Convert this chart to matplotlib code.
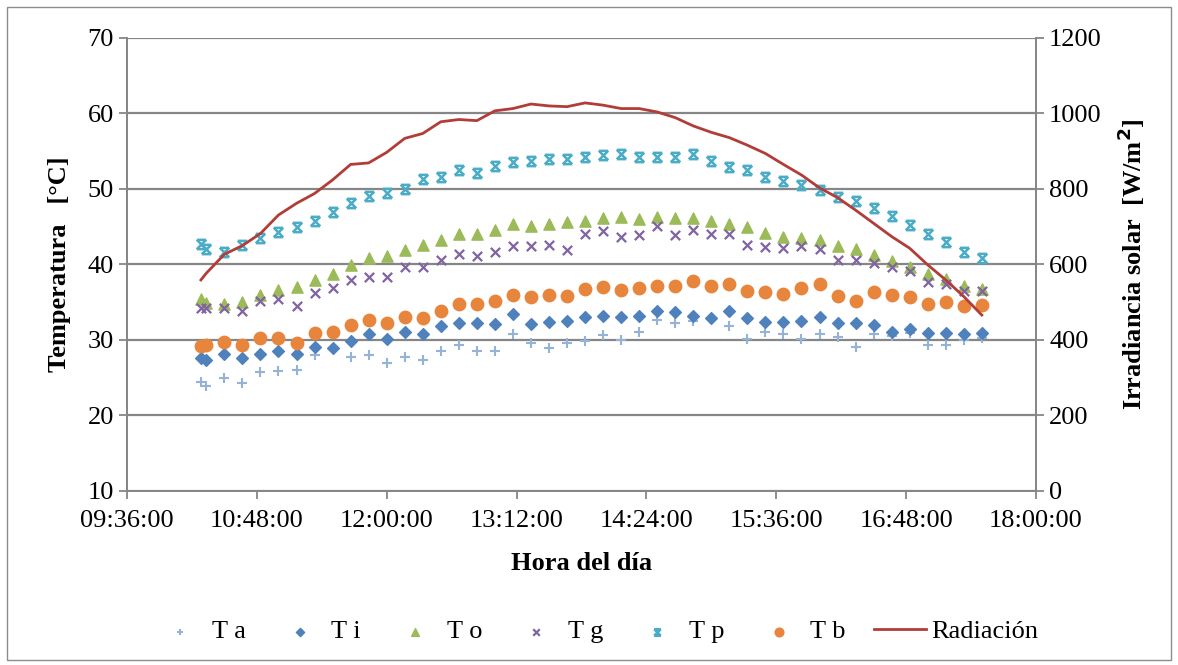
import matplotlib
matplotlib.use("Agg")
import matplotlib.pyplot as plt
import matplotlib.dates as mdates
from matplotlib.path import Path
from matplotlib.patches import Rectangle
import pandas as pd

plt.rcParams['font.family'] = ['Liberation Serif', 'DejaVu Serif']

# hora de cada medida
horas = ["10:17", "10:20", "10:30", "10:40", "10:50", "11:00", "11:10", "11:20", "11:30",
         "11:40", "11:50", "12:00", "12:10", "12:20", "12:30", "12:40", "12:50", "13:00",
         "13:10", "13:20", "13:30", "13:40", "13:50", "14:00", "14:10", "14:20", "14:30",
         "14:40", "14:50", "15:00", "15:10", "15:20", "15:30", "15:40", "15:50", "16:00",
         "16:10", "16:20", "16:30", "16:40", "16:50", "17:00", "17:10", "17:20", "17:30"]

Ta = [24.4, 23.9, 25.0, 24.3, 25.7, 25.9, 26.0, 28.0, 29.0, 27.7, 28.0, 27.0, 27.7, 27.4, 28.5,
      29.3, 28.5, 28.5, 30.8, 29.6, 28.9, 29.6, 29.9, 30.7, 30.0, 31.1, 32.7, 32.3, 32.5, 32.8,
      31.9, 30.1, 31.1, 30.8, 30.1, 30.8, 30.4, 29.1, 30.8, 30.5, 30.9, 29.3, 29.3, 30.0, 30.2]
Ti = [27.6, 27.4, 28.1, 27.6, 28.1, 28.5, 28.2, 29.1, 29.0, 29.9, 30.8, 30.1, 31.1, 30.8, 31.9,
      32.2, 32.2, 32.1, 33.4, 32.1, 32.4, 32.5, 33.1, 33.2, 33.1, 33.2, 33.8, 33.7, 33.2, 32.9,
      33.9, 32.9, 32.4, 32.4, 32.5, 33.1, 32.2, 32.3, 32.0, 31.0, 31.4, 30.9, 30.9, 30.8, 30.9]
To = [35.4, 34.9, 34.7, 35.0, 36.0, 36.6, 37.0, 38.0, 38.7, 39.9, 40.9, 41.1, 41.9, 42.6, 43.2,
      44.1, 44.1, 44.6, 45.3, 45.1, 45.3, 45.6, 45.8, 46.1, 46.3, 46.0, 46.3, 46.2, 46.2, 45.7,
      45.4, 44.9, 44.2, 43.7, 43.5, 43.3, 42.4, 42.0, 41.3, 40.5, 39.7, 38.8, 38.1, 37.2, 36.7]
Tg = [34.3, 34.3, 34.2, 33.8, 35.2, 35.4, 34.5, 36.2, 36.9, 37.9, 38.4, 38.3, 39.6, 39.6, 40.6,
      41.4, 41.1, 41.7, 42.5, 42.4, 42.6, 41.9, 44.1, 44.4, 43.7, 43.9, 45.1, 43.9, 44.6, 44.1,
      44.0, 42.6, 42.3, 42.2, 42.4, 42.0, 40.6, 40.6, 40.2, 39.7, 39.2, 37.7, 37.4, 36.5, 36.5]
Tp = [42.7, 42.0, 41.7, 42.6, 43.5, 44.3, 44.9, 45.8, 46.9, 48.1, 49.1, 49.5, 50.0, 51.3, 51.6,
      52.5, 52.1, 53.0, 53.6, 53.7, 54.0, 54.0, 54.2, 54.5, 54.6, 54.2, 54.3, 54.3, 54.6, 53.7,
      52.9, 52.5, 51.6, 51.0, 50.5, 49.9, 48.9, 48.4, 47.5, 46.4, 45.2, 44.1, 43.0, 41.7, 40.9]
Tb = [29.2, 29.3, 29.7, 29.4, 30.2, 30.2, 29.6, 30.9, 31.0, 32.0, 32.6, 32.3, 33.0, 32.9, 33.9,
      34.8, 34.8, 35.2, 35.9, 35.7, 35.9, 35.8, 36.7, 37.0, 36.6, 36.9, 37.2, 37.1, 37.8, 37.2,
      37.4, 36.5, 36.3, 36.1, 36.9, 37.4, 35.8, 35.2, 36.4, 36.0, 35.7, 34.8, 35.0, 34.5, 34.6]
radiacion = [559, 577, 627, 650, 682, 731, 762, 788, 824, 865, 869, 897, 934, 947, 978,
             984, 981, 1007, 1013, 1025, 1020, 1018, 1028, 1022, 1013, 1013, 1004, 989, 967, 950,
             936, 916, 894, 865, 837, 803, 777, 744, 709, 674, 643, 599, 559, 515, 466]

t = pd.to_datetime(["2000-01-01 " + h for h in horas])

# marcador "estrella" de Excel (x con barras)
star = Path([(-1, 1), (1, 1), (-1, -1), (1, -1), (-1, 1), (1, -1), (1, 1), (-1, -1)],
            [Path.MOVETO, Path.LINETO, Path.MOVETO, Path.LINETO,
             Path.MOVETO, Path.LINETO, Path.MOVETO, Path.LINETO])

fig = plt.figure(figsize=(11.78, 6.65), dpi=100)
fig.patches.append(Rectangle((0.006, 0.008), 0.988, 0.982, transform=fig.transFigure,
                             fill=False, edgecolor='#8c8c8c', linewidth=1))
ax = fig.add_axes([0.1078, 0.2617, 0.7716, 0.6812])
ax2 = ax.twinx()

grey = '#868686'
ax.scatter(t, Ta, marker='+', s=45, color='#95B3D7', linewidths=1.5, label='T a', zorder=3)
ax.scatter(t, Ti, marker='D', s=36, color='#4F81BD', label='T i', zorder=3)
ax.scatter(t, To, marker='^', s=65, color='#9BBB59', label='T o', zorder=3)
ax.scatter(t, Tg, marker='x', s=45, color='#8064A2', linewidths=1.6, label='T g', zorder=3)
ax.scatter(t, Tp, marker=star, s=45, color='#4BACC6', linewidths=1.8, label='T p', zorder=3)
ax.scatter(t, Tb, marker='o', s=80, color='#E8853D', label='T b', zorder=3)
ax2.plot(t, radiacion, color='#B23C38', linewidth=2, label='Radiación')

ax.set_ylim(10, 70)
ax.set_yticks(range(10, 71, 10))
ax2.set_ylim(0, 1200)
ax2.set_yticks(range(0, 1201, 200))
ax.set_xlim(pd.Timestamp("2000-01-01 09:36"), pd.Timestamp("2000-01-01 18:00"))
ax.set_xticks(pd.date_range("2000-01-01 09:36", "2000-01-01 18:00", freq="72min"))
ax.xaxis.set_major_formatter(mdates.DateFormatter('%H:%M:%S'))

ax.grid(axis='y', color=grey, linewidth=1.6)
ax.set_axisbelow(True)
for a in (ax, ax2):
    a.spines['top'].set_visible(False)
    for s in ('left', 'right', 'bottom'):
        a.spines[s].set_color(grey)
        a.spines[s].set_linewidth(1.3)
    a.tick_params(colors=grey, labelcolor='black', labelsize=19, length=6, width=1.3)
ax.tick_params(axis='x', pad=8)

ax.set_ylabel('Temperatura   [°C]', fontsize=19, fontweight='bold', labelpad=12)
ax2.set_ylabel('Irradiancia solar  [W/m$^\\mathbf{2}$]', fontsize=19, fontweight='bold', labelpad=10)
ax.set_xlabel('Hora del día', fontsize=19, fontweight='bold', labelpad=14)

h1, l1 = ax.get_legend_handles_labels()
h2, l2 = ax2.get_legend_handles_labels()
fig.legend(h1 + h2, l1 + l2, loc='center', bbox_to_anchor=(0.506, 0.05), ncol=7,
           frameon=False, fontsize=19, handlelength=2.0, handletextpad=0.2,
           columnspacing=1.05, markerscale=0.7)

fig.savefig('out.png', dpi=100)
